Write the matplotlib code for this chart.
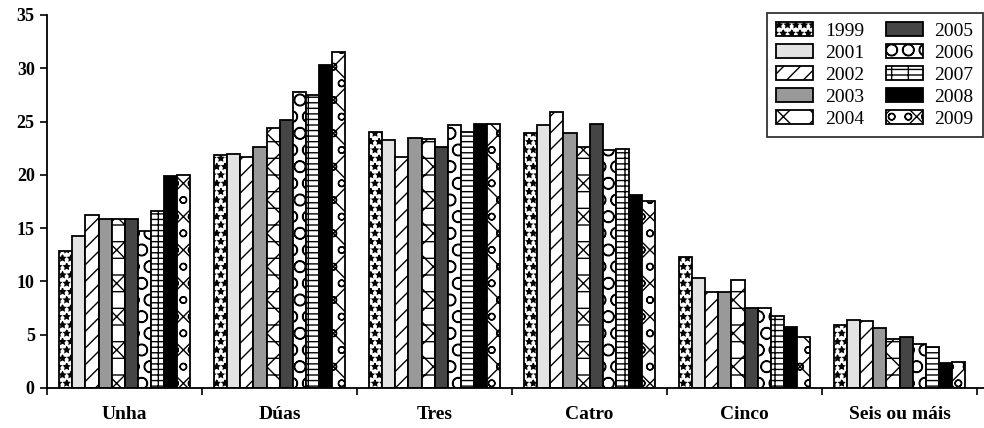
import matplotlib
matplotlib.use('Agg')
import matplotlib.pyplot as plt
import numpy as np

plt.rcParams['font.family'] = ['Liberation Serif', 'DejaVu Serif']
plt.rcParams['font.weight'] = 'bold'
plt.rcParams['hatch.linewidth'] = 1.0

# 数据
categories = ['Unha', 'Dúas', 'Tres', 'Catro', 'Cinco', 'Seis ou máis']
years = ['1999', '2001', '2002', '2003', '2004', '2005', '2006', '2007', '2008', '2009']

v1999 = [12.9, 21.9, 24.0, 23.9, 12.3, 5.9]
v2001 = [14.3, 22.0, 23.3, 24.7, 10.3, 6.4]
v2002 = [16.2, 21.7, 21.7, 25.9, 9.0, 6.3]
v2003 = [15.9, 22.6, 23.5, 23.9, 9.0, 5.6]
v2004 = [15.9, 24.4, 23.4, 22.6, 10.1, 4.6]
v2005 = [15.9, 25.1, 22.6, 24.8, 7.5, 4.75]
v2006 = [14.7, 27.8, 24.7, 22.3, 7.5, 4.1]
v2007 = [16.6, 27.5, 24.0, 22.4, 6.75, 3.8]
v2008 = [19.9, 30.3, 24.8, 18.1, 5.7, 2.3]
v2009 = [19.95, 31.5, 24.8, 17.5, 4.8, 2.4]
series = [v1999, v2001, v2002, v2003, v2004, v2005, v2006, v2007, v2008, v2009]

# 样式（填充色, 图案）
styles = [
    ('white', '**'),
    ('#e3e3e3', ''),
    ('white', '//'),
    ('#999999', ''),
    ('white', 'x-'),
    ('#454545', ''),
    ('white', 'O'),
    ('white', '---|'),
    ('black', ''),
    ('white', 'xo'),
]

fig = plt.figure(figsize=(9.84, 4.28), dpi=100)
ax = fig.add_axes([0.048, 0.0935, 0.952, 0.8715])

x = np.arange(len(categories))
n = len(series)
w = 0.0845
for i, vals in enumerate(series):
    fc, hatch = styles[i]
    offs = (i - (n - 1) / 2) * w
    ax.bar(x + offs, vals, width=w, color=fc, edgecolor='black',
           linewidth=1.3, hatch=hatch, label=years[i])

ax.set_ylim(0, 35)
ax.set_xlim(-0.5, 5.545)
ax.set_yticks(range(0, 36, 5))
ax.tick_params(axis='y', direction='out', length=5, width=1.2, labelsize=13, pad=4)

# 分类边界刻度 + 居中标签
ax.set_xticks(np.arange(-0.5, 6.0, 1.0))
ax.set_xticklabels([])
ax.set_xticks(x, minor=True)
ax.set_xticklabels(categories, minor=True)
ax.tick_params(axis='x', which='major', direction='out', length=5, width=1.2)
ax.tick_params(axis='x', which='minor', length=0, labelsize=14, pad=13)

for s in ['top', 'right']:
    ax.spines[s].set_visible(False)
ax.spines['left'].set_linewidth(1.3)
ax.spines['bottom'].set_linewidth(1.3)

leg = ax.legend(ncol=2, loc='upper right', bbox_to_anchor=(0.999, 1.006),
                frameon=True, fancybox=False, edgecolor='black',
                prop={'size': 14, 'weight': 'normal'},
                handlelength=1.9, handleheight=0.7,
                columnspacing=1.1, labelspacing=0.22, borderpad=0.5,
                handletextpad=0.6, borderaxespad=0.0)
leg.get_frame().set_linewidth(1.3)

fig.savefig('out.png', dpi=100)
